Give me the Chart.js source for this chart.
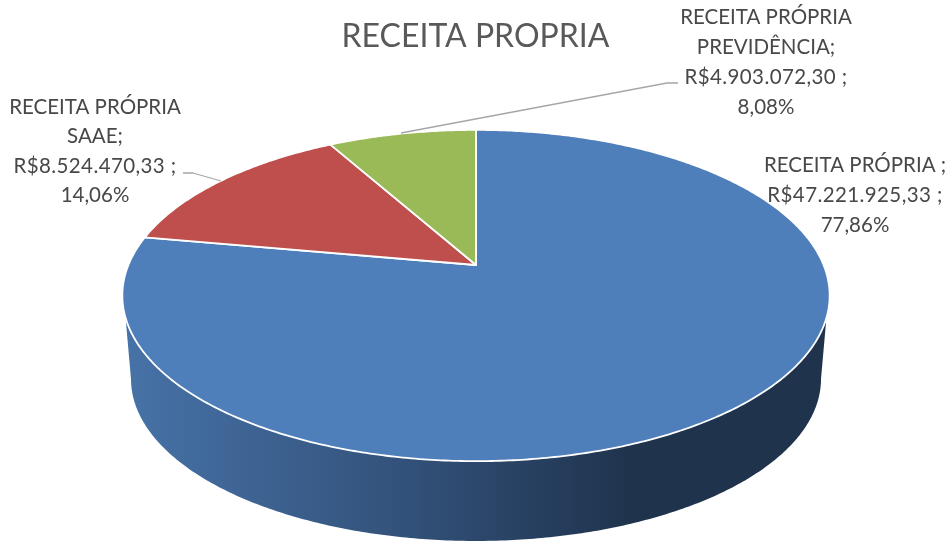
<!DOCTYPE html>
<html lang="pt-BR">
<head>
    <meta charset="UTF-8">
    <title>RECEITA PROPRIA</title>
    <script src="https://cdn.jsdelivr.net/npm/chart.js"></script>
    <style>
        html, body { margin: 0; background: #fff; overflow: hidden; }
        canvas { display: block; }
    </style>
</head>
<body>
    <canvas id="pie" width="951" height="542"></canvas>
    <script>
    const titleText = 'RECEITA PROPRIA';
    const categories = ['RECEITA PRÓPRIA', 'RECEITA PRÓPRIA SAAE', 'RECEITA PRÓPRIA PREVIDÊNCIA'];
    const values = [47221925.33, 8524470.33, 4903072.30];
    const sliceColors = ['#4e7fbb', '#be4f4c', '#9aba58'];
    const labelLines = [
        ['RECEITA PRÓPRIA ;', 'R$47.221.925,33 ;', '77,86%'],
        ['RECEITA PRÓPRIA', 'SAAE;', 'R$8.524.470,33 ;', '14,06%'],
        ['RECEITA PRÓPRIA', 'PREVIDÊNCIA;', 'R$4.903.072,30 ;', '8,08%']
    ];

    // label placement: centre x, y of first line, line step
    const labelPos = [
        { x: 855, y: 165, step: 30 },
        { x: 95, y: 107, step: 29.5 },
        { x: 766, y: 17, step: 30 }
    ];
    const leaders = [
        null,
        [[183, 173], [193, 173], [221, 181]],
        [[401, 133], [667, 83], [678, 83]]
    ];

    // the pie is seen in perspective, so the centre of the disc is not the centre of the ellipse
    const K = 0.1843;
    const topDisc = { cx: 476, cy: 265, a: 347.6, b: 160 };
    const bottomDisc = { cx: 476, cy: 349.1, a: 339.1, b: 156.5 };

    function project(disc, angle) {
        const u = Math.cos(angle), v = Math.sin(angle);
        const w = 1 - K * v;
        return [disc.cx + disc.a * u / w, disc.cy + disc.b * v / w];
    }

    function tracePoints(ctx, disc, from, to, first) {
        const n = Math.max(2, Math.ceil(Math.abs(to - from) / 0.01));
        for (let i = 0; i <= n; i++) {
            const p = project(disc, from + (to - from) * i / n);
            if (first && i === 0) ctx.moveTo(p[0], p[1]);
            else ctx.lineTo(p[0], p[1]);
        }
    }

    function drawWall(ctx, start, end) {
        // only the part of the rim that faces the viewer
        const tTop = Math.asin(0.312), bTop = Math.asin(K);
        const from = Math.max(start, tTop), to = Math.min(end, Math.PI - tTop);
        if (from >= to) return;
        const g = ctx.createLinearGradient(122, 0, 830, 0);
        g.addColorStop(0, '#4773a8');
        g.addColorStop(0.39, '#33527b');
        g.addColorStop(0.72, '#1f334d');
        g.addColorStop(1, '#1f334d');
        ctx.beginPath();
        tracePoints(ctx, topDisc, from, to, true);
        tracePoints(ctx, bottomDisc, Math.min(end, Math.PI - bTop), Math.max(start, bTop), false);
        ctx.closePath();
        ctx.fillStyle = g;
        ctx.fill();
    }

    // replace the flat arc with the projected one, angles still come from Chart.js
    Chart.ArcElement.prototype.draw = function (ctx) {
        const { startAngle, endAngle } = this.getProps(['startAngle', 'endAngle']);
        drawWall(ctx, startAngle, endAngle);
        ctx.beginPath();
        ctx.moveTo(topDisc.cx, topDisc.cy);
        tracePoints(ctx, topDisc, startAngle, endAngle, false);
        ctx.closePath();
        ctx.fillStyle = this.options.backgroundColor;
        ctx.fill();
        ctx.lineJoin = 'round';
        ctx.lineWidth = this.options.borderWidth;
        ctx.strokeStyle = this.options.borderColor;
        ctx.stroke();
    };

    const sliceLabels = {
        id: 'sliceLabels',
        afterDatasetsDraw(chart) {
            const ctx = chart.ctx;
            ctx.save();
            ctx.strokeStyle = '#a6a6a6';
            ctx.lineWidth = 1.3;
            leaders.forEach(pts => {
                if (!pts) return;
                ctx.beginPath();
                pts.forEach((p, i) => i ? ctx.lineTo(p[0], p[1]) : ctx.moveTo(p[0], p[1]));
                ctx.stroke();
            });
            ctx.fillStyle = '#484848';
            ctx.font = '20.5px Lato';
            ctx.textAlign = 'center';
            ctx.textBaseline = 'middle';
            labelLines.forEach((lines, i) => {
                const pos = labelPos[i];
                lines.forEach((line, j) => {
                    // the money lines run a little wider than Lato sets them
                    ctx.letterSpacing = line.startsWith('R$') ? '0.4px' : '0px';
                    ctx.fillText(line, pos.x, pos.y + j * pos.step);
                });
            });
            ctx.restore();
        }
    };

    new Chart(document.getElementById('pie'), {
        type: 'pie',
        data: {
            labels: categories,
            datasets: [{
                data: values,
                backgroundColor: sliceColors,
                borderColor: '#ffffff',
                borderWidth: 1.8
            }]
        },
        options: {
            responsive: false,
            animation: false,
            plugins: {
                legend: { display: false },
                tooltip: { enabled: false },
                title: {
                    display: true,
                    text: titleText,
                    color: '#595959',
                    font: { family: 'Lato', size: 32, weight: 'normal' },
                    padding: { top: 17, bottom: 10 }
                }
            }
        },
        plugins: [sliceLabels]
    });
    </script>
</body>
</html>
